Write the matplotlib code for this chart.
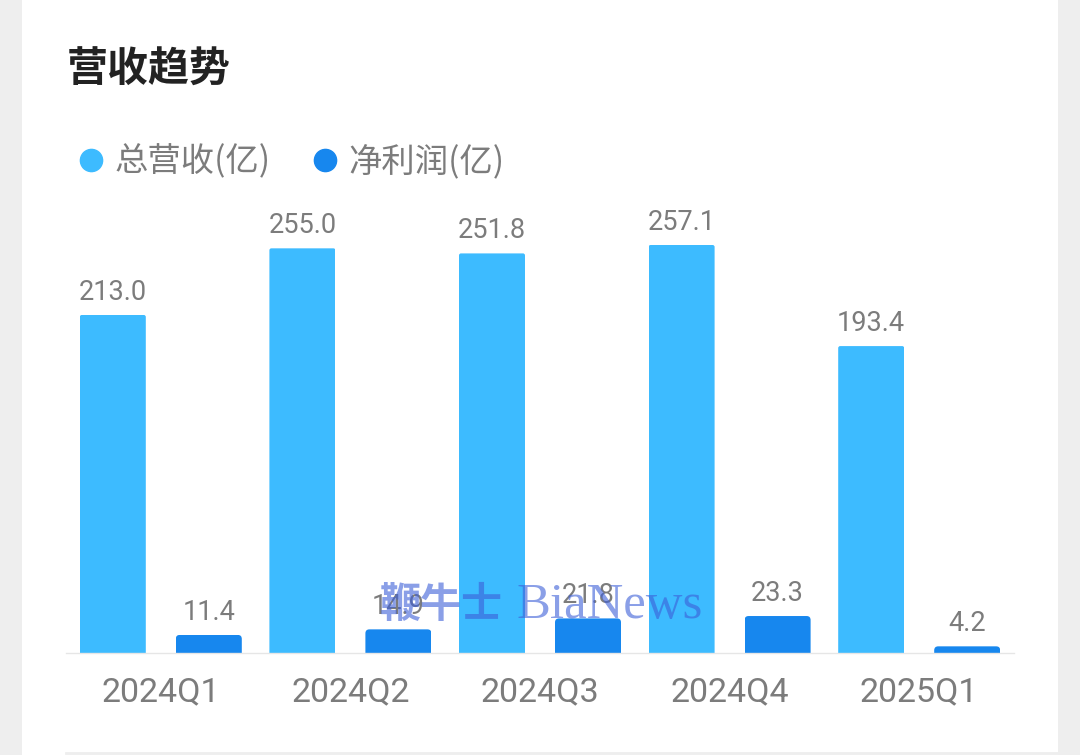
import matplotlib
matplotlib.use("Agg")
import matplotlib.pyplot as plt
import numpy as np
from matplotlib.lines import Line2D
from matplotlib.patches import FancyBboxPatch, Rectangle
from matplotlib.transforms import IdentityTransform

plt.rcParams["font.family"] = ["Noto Sans CJK SC", "DejaVu Sans"]

quarters = ["2024Q1", "2024Q2", "2024Q3", "2024Q4", "2025Q1"]
revenue = [213.0, 255.0, 251.8, 257.1, 193.4]
profit = [11.4, 14.9, 21.8, 23.3, 4.2]
series_names = ["总营收(亿)", "净利润(亿)"]

W, H = 1080, 755
LIGHT = "#3dbbff"
DARK = "#1787ee"
GREY = "#7c7c7c"


def px_x(x):
    return x / W


def px_y(y):
    return 1 - y / H


def round_top(bars, ax, radius=4):
    # clip each bar with a rounded box so only the corners change
    fig = ax.figure
    fig.canvas.draw()
    for bar in bars:
        box = bar.get_window_extent()
        clip = FancyBboxPatch(
            (box.x0 + radius, box.y0 - 20),
            box.width - 2 * radius,
            box.height + 20 - radius,
            boxstyle=f"round,pad={radius},rounding_size={radius}",
            transform=IdentityTransform(),
        )
        bar.set_clip_path(clip)


fig = plt.figure(figsize=(W / 100, H / 100), dpi=100, facecolor="#eeeeee")
fig.add_artist(Rectangle((px_x(22), 0), px_x(1036), 1, transform=fig.transFigure, facecolor="white", edgecolor="none", zorder=-2))
fig.add_artist(Line2D([px_x(66), px_x(1058)], [px_y(753), px_y(753)], transform=fig.transFigure, color="#eeeeee", lw=2, zorder=-1))

ax = fig.add_axes([px_x(66), px_y(653), px_x(948), 408 / H])
ax.patch.set_alpha(0)
x = np.arange(len(quarters))
offset = 48 / 189.6
bar_w = 66 / 189.6

bars1 = ax.bar(x - offset, revenue, bar_w, color=LIGHT, label=series_names[0])
bars2 = ax.bar(x + offset, profit, bar_w, color=DARK, label=series_names[1])

ax.set_xlim(-0.5, 4.5)
ax.set_ylim(0, 257.1)
ax.set_yticks([])
ax.set_xticks(x)
ax.set_xticklabels(quarters, fontsize=24.5, color=GREY, family="Roboto")
ax.tick_params(axis="x", length=0, pad=17)
for side in ["top", "left", "right"]:
    ax.spines[side].set_visible(False)
ax.spines["bottom"].set_color("#e6e6e6")
ax.spines["bottom"].set_linewidth(1)

for bars, vals in [(bars1, revenue), (bars2, profit)]:
    for bar, v in zip(bars, vals):
        ax.annotate(
            f"{v:.1f}",
            (bar.get_x() + bar.get_width() / 2, v),
            xytext=(0, 6.5),
            textcoords="offset points",
            ha="center",
            va="bottom",
            fontsize=19.5,
            color=GREY,
            family="Roboto",
            annotation_clip=False,
        )

round_top(bars1, ax, radius=2)
round_top(bars2, ax, radius=4)

fig.text(px_x(67), px_y(70), "营收趋势", fontsize=29.5, color="#222222", va="center", ha="left", fontweight="bold")

handles = [
    Line2D([], [], marker="o", ls="none", color=LIGHT, markersize=16),
    Line2D([], [], marker="o", ls="none", color=DARK, markersize=16),
]
fig.legend(
    handles,
    series_names,
    loc="center left",
    bbox_to_anchor=(px_x(74), px_y(162)),
    ncol=2,
    frameon=False,
    fontsize=24,
    labelcolor=GREY,
    handlelength=1,
    handletextpad=0.215,
    columnspacing=1.12,
    borderpad=0,
    borderaxespad=0,
)

# watermark over the chart, the two parts have different sizes
fig.text(
    px_x(380),
    px_y(605),
    "鞭牛士",
    fontsize=29.5,
    family="Noto Sans CJK SC",
    fontweight="bold",
    color="#3c5fd8",
    alpha=0.6,
    va="center",
    ha="left",
)
fig.text(
    px_x(516),
    px_y(606),
    "BiaNews",
    fontsize=36.5,
    family="Liberation Serif",
    color="#3c5fd8",
    alpha=0.6,
    va="center",
    ha="left",
)

fig.savefig("out.png", dpi=100, facecolor=fig.get_facecolor())
